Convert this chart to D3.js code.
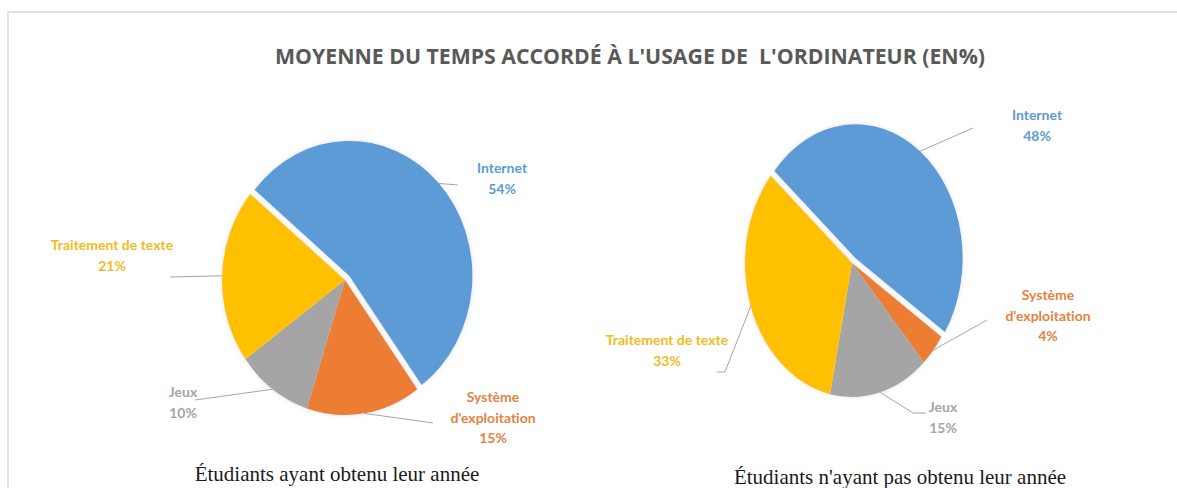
<!DOCTYPE html>
<html>
<head>
<meta charset="utf-8">
<script src="https://cdn.jsdelivr.net/npm/d3@7"></script>
<style>
  html, body { margin: 0; padding: 0; background: #fff; }
  svg { display: block; }
  text { font-variant-ligatures: none; }
</style>
</head>
<body>
<svg id="chart" width="1177" height="488"></svg>
<script>
// ---- data ----
const chartTitle = "MOYENNE DU TEMPS ACCORDÉ À L'USAGE DE  L'ORDINATEUR (EN%)";
const categories = ["Internet", "Système d'exploitation", "Jeux", "Traitement de texte"];
const categoryLines = [["Internet"], ["Système", "d'exploitation"], ["Jeux"], ["Traitement de texte"]];
const valuesObtenu = [54, 15, 10, 21];
const valuesNonObtenu = [48, 4, 15, 33];
const captions = ["Étudiants ayant obtenu leur année", "Étudiants n'ayant pas obtenu leur année"];

// ---- styling ----
const sliceColors = ["#5b9bd5", "#ed7d31", "#a5a5a5", "#ffc000"];
const labelColors = ["#5b9bd5", "#e6813f", "#a5a5a5", "#f2bb1c"];
const explodeIndex = 0;   // the Internet slice is pulled out
const explodeDist = 6;

// Layout of each pie: centre, radii (slightly stretched vertically),
// rotation of the first slice, and label placement relative to the centre.
const pies = [
  {
    values: valuesObtenu, caption: captions[0],
    cx: 345, cy: 280, rx: 123, ry: 135, start: -50.4,
    captionX: 337, captionY: 481,
    // label anchor (centre of first text line) and leader elbow points
    labels: [
      { x: 157, y: -112, leader: [[113, -95]] },
      { x: 148, y: 117, leader: [[88, 143]] },
      { x: -162, y: 112, leader: [[-150, 120]] },
      { x: -233, y: -35, leader: [[-175, -3]] }
    ]
  },
  {
    values: valuesNonObtenu, caption: captions[1],
    cx: 852, cy: 263, rx: 107, ry: 134, start: -49.4,
    captionX: 900, captionY: 484,
    labels: [
      { x: 185, y: -148, leader: [[121, -135]] },
      { x: 196, y: 32, leader: [[135, 57]] },
      { x: 91, y: 144, leader: [[61, 150], [74, 150]] },
      { x: -185, y: 77, leader: [[-127, 109], [-135, 109]] }
    ]
  }
];

const svg = d3.select("#chart");

// soft edge around the pies
const defs = svg.append("defs");
const glow = defs.append("filter").attr("id", "soft").attr("x", "-20%").attr("y", "-20%")
  .attr("width", "140%").attr("height", "140%");
glow.append("feGaussianBlur").attr("in", "SourceAlpha").attr("stdDeviation", 2).attr("result", "b");
glow.append("feFlood").attr("flood-color", "#c8c8c8").attr("flood-opacity", 0.6);
glow.append("feComposite").attr("in2", "b").attr("operator", "in").attr("result", "s");
const merge = glow.append("feMerge");
merge.append("feMergeNode").attr("in", "s");
merge.append("feMergeNode").attr("in", "SourceGraphic");

// frame
svg.append("path")
  .attr("d", "M8,488 V12 H1177")
  .attr("fill", "none")
  .attr("stroke", "#e3e3e3")
  .attr("stroke-width", 2);

// title
svg.append("text")
  .attr("x", 630).attr("y", 64)
  .attr("text-anchor", "middle")
  .attr("font-family", "'Open Sans', sans-serif")
  .attr("font-weight", 700)
  .attr("font-size", 22)
  .attr("fill", "#595959")
  .attr("textLength", 710)
  .attr("lengthAdjust", "spacingAndGlyphs")
  .attr("xml:space", "preserve")
  .text(chartTitle);

const deg = Math.PI / 180;

pies.forEach(p => {
  const pie = d3.pie().sort(null)
    .startAngle(p.start * deg)
    .endAngle(p.start * deg + 2 * Math.PI);
  const arcs = pie(p.values);
  const arc = d3.arc().innerRadius(0).outerRadius(p.rx);
  const sy = p.ry / p.rx;

  const g = svg.append("g").attr("transform", `translate(${p.cx},${p.cy})`);

  // slices (drawn in a circle, stretched to an ellipse)
  const slices = g.append("g").attr("filter", "url(#soft)");
  slices.selectAll("path")
    .data(arcs)
    .join("path")
    .attr("transform", (d, i) => {
      const mid = (d.startAngle + d.endAngle) / 2;
      const off = i === explodeIndex ? explodeDist : 0;
      return `translate(${Math.sin(mid) * off},${-Math.cos(mid) * off}) scale(1,${sy})`;
    })
    .attr("d", arc)
    .attr("fill", (d, i) => sliceColors[i]);

  // leader lines from each slice edge to its label
  arcs.forEach((d, i) => {
    const mid = (d.startAngle + d.endAngle) / 2;
    const off = i === explodeIndex ? explodeDist : 0;
    const ex = Math.sin(mid) * (p.rx + off);
    const ey = -Math.cos(mid) * (p.ry + off);
    const pts = [[ex, ey]].concat(p.labels[i].leader);
    g.append("path")
      .attr("d", d3.line()(pts))
      .attr("fill", "none")
      .attr("stroke", "#a6a6a6")
      .attr("stroke-width", 1);

    const lines = categoryLines[i].concat([d.data + "%"]);
    const t = g.append("text")
      .attr("text-anchor", "middle")
      .attr("font-family", "Lato, sans-serif")
      .attr("font-weight", 700)
      .attr("font-size", 14)
      .attr("fill", labelColors[i]);
    lines.forEach((s, k) => {
      t.append("tspan")
        .attr("x", p.labels[i].x)
        .attr("y", p.labels[i].y + k * 20.5 + 5)
        .text(s);
    });
  });

  // caption under each pie
  svg.append("text")
    .attr("x", p.captionX).attr("y", p.captionY)
    .attr("text-anchor", "middle")
    .attr("font-family", "'Liberation Serif', 'Times New Roman', serif")
    .attr("font-size", 21)
    .attr("fill", "#1a1a1a")
    .text(p.caption);
});
</script>
</body>
</html>
